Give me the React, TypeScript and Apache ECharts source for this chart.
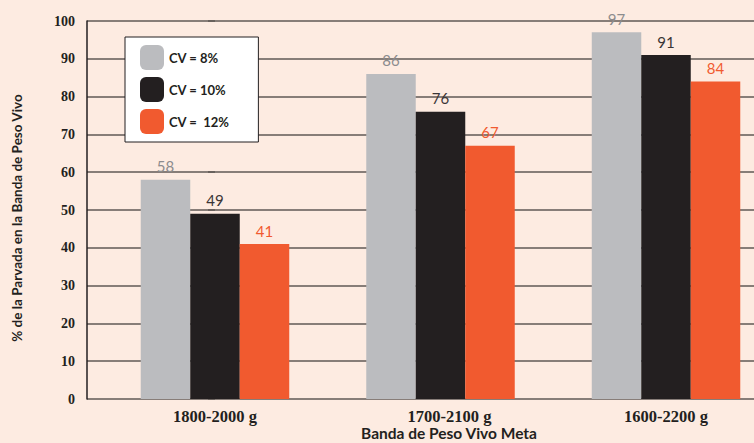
import React, { useEffect, useRef } from "react";
import * as echarts from "echarts";

const categories = ["1800-2000 g", "1700-2100 g", "1600-2200 g"];
const categoryIndex = [0, 1, 2];
const seriesNames = ["CV = 8%", "CV = 10%", "CV =  12%"];
const cv8 = [58, 86, 97];
const cv10 = [49, 76, 91];
const cv12 = [41, 67, 84];
const yTicks = [0, 10, 20, 30, 40, 50, 60, 70, 80, 90, 100];

const colors = ["#bbbcbf", "#231f20", "#f15a2f"];
const labelColors = ["#8c8c8e", "#3a3536", "#f15a2f"];

export default function App() {
  const ref = useRef<HTMLDivElement>(null);
  useEffect(() => {
    if (!ref.current) return;
    const chart = echarts.init(ref.current, null, { renderer: "svg" });
    const serif = "'Liberation Serif', serif";
    const sans = "Lato, 'Open Sans', sans-serif";
    const gridColor = "#5f5955";
    const data = [cv8, cv10, cv12];
    const xLabelFont = {
      fontFamily: serif,
      fontWeight: "bold",
      fontSize: 16.5,
      lineHeight: 16,
      color: "#231f20",
    };
    chart.setOption({
      animation: false,
      backgroundColor: "#fdebe1",
      grid: { left: 87, right: 0, top: 21, bottom: 44, outerBoundsMode: "none", containLabel: false },
      legend: {
        orient: "vertical",
        left: 125,
        top: 37,
        padding: [8, 29, 8, 15],
        itemWidth: 24,
        itemHeight: 25,
        itemGap: 7,
        backgroundColor: "#ffffff",
        borderColor: "#231f20",
        borderWidth: 1,
        data: seriesNames,
        textStyle: { fontFamily: sans, fontWeight: "bold", fontSize: 13, color: "#231f20" },
      },
      xAxis: {
        type: "value",
        min: -0.5676,
        max: 2.3902,
        axisLine: { show: false },
        axisTick: { show: false },
        splitLine: { show: false },
        axisLabel: {
          customValues: categoryIndex,
          margin: 9,
          ...xLabelFont,
          formatter: (v: number) => {
            const i = Math.round(v);
            return i === 1 ? `{s|${categories[i]}}` : categories[i];
          },
          rich: { s: { ...xLabelFont, padding: [0, 0, 0, 18] } },
        },
        name: "Banda de Peso Vivo Meta",
        nameLocation: "middle",
        nameGap: 26,
        nameMoveOverlap: false,
        nameTextStyle: {
          fontFamily: sans,
          fontWeight: "bold",
          fontSize: 15.5,
          lineHeight: 16,
          color: "#231f20",
          padding: [0, 0, 0, 57],
        },
      },
      yAxis: [
        {
          type: "value",
          min: yTicks[0],
          max: yTicks[yTicks.length - 1],
          interval: 10,
          axisLine: { show: false },
          axisTick: { show: true, length: 7, lineStyle: { color: gridColor, width: 1.5 } },
          splitLine: { show: true, lineStyle: { color: gridColor, width: 1.5 } },
          axisLabel: {
            margin: 12,
            fontFamily: serif,
            fontWeight: "bold",
            fontSize: 14,
            color: "#231f20",
          },
        },
        {
          type: "value",
          min: -1.6,
          max: 101.6,
          position: "left",
          axisLine: { show: true, lineStyle: { color: "#231f20", width: 1.5 } },
          axisTick: { show: false },
          axisLabel: { show: false },
          splitLine: { show: false },
          name: "% de la Parvada en la Banda de Peso Vivo",
          nameLocation: "middle",
          nameGap: 63,
          nameMoveOverlap: false,
          nameTextStyle: {
            fontFamily: sans,
            fontWeight: "bold",
            fontSize: 13.5,
            color: "#231f20",
            padding: [0, 16, 0, 0],
          },
        },
      ],
      series: seriesNames.map((name, i) => ({
        name,
        type: "bar",
        yAxisIndex: 0,
        data: categoryIndex.map((c) => [c, data[i][c]]),
        barWidth: 49.5,
        barGap: "0%",
        itemStyle: { color: colors[i] },
        label: {
          show: true,
          position: "top",
          distance: 6,
          fontFamily: sans,
          fontSize: 15,
          fontWeight: "normal",
          color: labelColors[i],
          formatter: (p: any) => String(p.value[1]),
        },
      })),
    });
    return () => chart.dispose();
  }, []);
  return (
    <div
      ref={ref}
      style={{ position: "fixed", left: 0, top: 0, width: 754, height: 443 }}
    />
  );
}
